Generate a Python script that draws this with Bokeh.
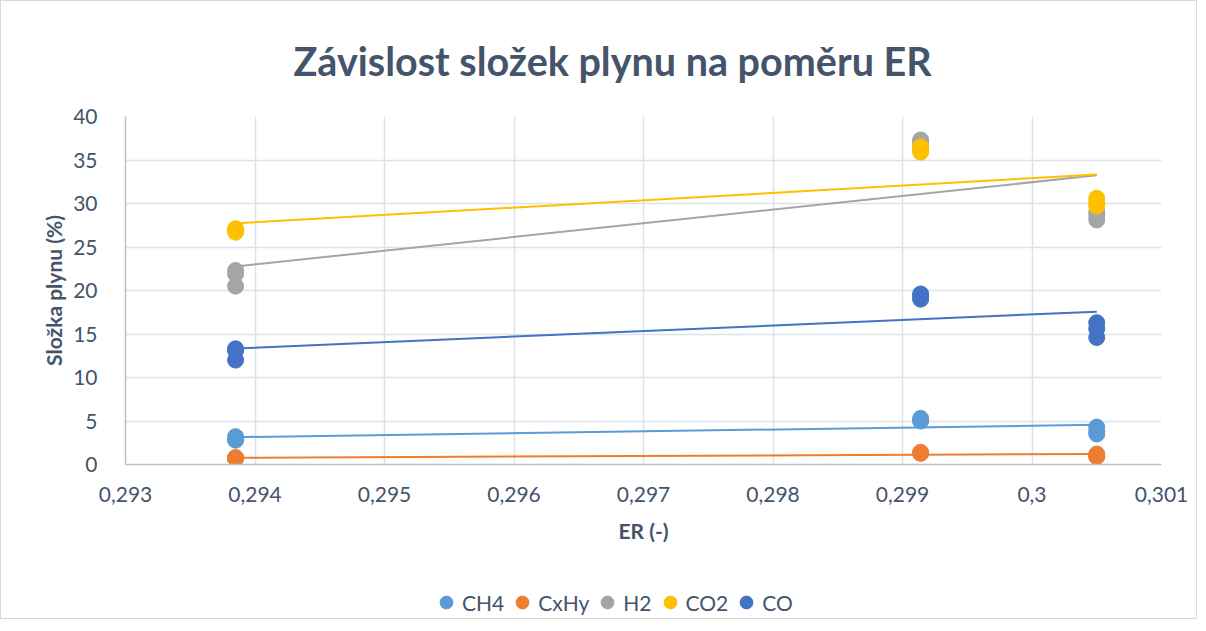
import numpy as np
from bokeh.plotting import figure
from bokeh.layouts import column
from bokeh.models import (FixedTicker, CustomJSTickFormatter, Legend, LegendItem,
                          ColumnDataSource)
from bokeh.embed import file_html
from bokeh.resources import INLINE

# ---- data ----
er = [0.29385, 0.29385, 0.29385, 0.29914, 0.29914, 0.29914, 0.30050, 0.30050, 0.30050]
ch4 = [3.2, 2.9, 2.8, 5.3, 5.1, 5.0, 4.3, 3.8, 3.5]
cxhy = [0.8, 0.7, 0.7, 1.4, 1.3, 1.3, 1.2, 1.0, 0.9]
h2 = [22.3, 21.9, 20.5, 37.3, 37.0, 36.6, 29.0, 28.6, 28.1]
co2 = [27.1, 26.9, 26.7, 36.5, 36.2, 35.9, 30.6, 30.1, 29.7]
co = [13.3, 13.1, 12.0, 19.6, 19.3, 19.0, 16.3, 15.6, 14.6]

series_names = ["CH4", "CxHy", "H2", "CO2", "CO"]
series_values = [ch4, cxhy, h2, co2, co]
series_colors = ["#5B9BD5", "#ED7D31", "#A5A5A5", "#FFC000", "#4472C4"]

x_ticks = [0.293, 0.294, 0.295, 0.296, 0.297, 0.298, 0.299, 0.300, 0.301]
y_ticks = [0, 5, 10, 15, 20, 25, 30, 35, 40]

TEXT = "#44546A"
FONT = "Lato"

p = figure(frame_width=1036, frame_height=348, output_backend="svg",
           toolbar_location=None,
           x_range=(0.293, 0.301), y_range=(0, 40),
           min_border_left=124, min_border_right=35, min_border_top=115,
           min_border_bottom=95)

p.title.text = "Závislost složek plynu na poměru ER"
p.title.align = "left"
p.title.offset = 168
p.title.text_font = FONT
p.title.text_font_size = "39.5px"
p.title.text_font_style = "bold"
p.title.text_color = TEXT
p.title.standoff = 65

p.outline_line_color = None
p.background_fill_color = "white"
p.border_fill_color = "white"

xa = p.xaxis[0]
xa.ticker = FixedTicker(ticks=x_ticks)
xa.formatter = CustomJSTickFormatter(code="""
    var s = tick.toFixed(3).replace(/0+$/, '');
    return s.replace('.', ',');
""")
ya = p.yaxis[0]
ya.ticker = FixedTicker(ticks=y_ticks)

for ax in (xa, ya):
    ax.major_tick_line_color = None
    ax.minor_tick_line_color = None
    ax.axis_line_color = "#B4BFCE"
    ax.axis_line_width = 1.5
    ax.major_label_text_font = FONT
    ax.major_label_text_font_size = "21px"
    ax.major_label_text_color = TEXT
    ax.axis_label_text_font = FONT
    ax.axis_label_text_font_size = "21px"
    ax.axis_label_text_font_style = "bold"
    ax.axis_label_text_color = TEXT

xa.axis_label = "ER (-)"
xa.major_label_standoff = 16
xa.axis_label_standoff = 13
ya.axis_label = "Složka plynu (%)"
ya.major_label_standoff = 22
ya.axis_label_standoff = 4

p.xgrid.ticker = FixedTicker(ticks=x_ticks)
p.ygrid.ticker = FixedTicker(ticks=y_ticks)
p.grid.grid_line_color = "#DDE2EA"
p.grid.grid_line_width = 1.5

for name, vals, col in zip(series_names, series_values, series_colors):
    xs = np.array(er)
    ys = np.array(vals)
    k, b = np.polyfit(xs, ys, 1)
    x0, x1 = xs.min(), xs.max()
    p.line([x0, x1], [k * x0 + b, k * x1 + b], line_color=col, line_width=2)

for name, vals, col in zip(series_names, series_values, series_colors):
    src = ColumnDataSource(dict(x=er, y=vals))
    p.scatter("x", "y", source=src, size=16, fill_color=col, line_color=col,
              marker="circle")

# ---- legend strip (separate figure below the chart) ----
lg = figure(width=1195, height=59, output_backend="svg", toolbar_location=None,
            x_axis_location=None, y_axis_location=None,
            min_border=0, x_range=(0, 1), y_range=(0, 1))
lg.grid.visible = False
lg.outline_line_color = None
lg.background_fill_color = "white"
lg.border_fill_color = "white"

items = []
for name, col in zip(series_names, series_colors):
    # invisible placeholder (NaN) so that the legend can draw the marker
    r = lg.scatter(x=np.array([np.nan]), y=np.array([np.nan]), size=13,
                   fill_color=col, line_color=col, marker="circle")
    items.append(LegendItem(label=name, renderers=[r]))

legend = Legend(items=items, orientation="horizontal", location=(305, 0),
                label_text_font=FONT, label_text_font_size="21px",
                label_text_color=TEXT, border_line_color=None,
                background_fill_alpha=0, glyph_width=32, glyph_height=32,
                label_standoff=0, spacing=2, margin=0, padding=0,
                label_height=20)
lg.add_layout(legend, "center")

lay = column(p, lg, spacing=0)
lay.styles = {"border": "1px solid #D9D9D9"}

open("out.html", "w").write(file_html(lay, INLINE))
